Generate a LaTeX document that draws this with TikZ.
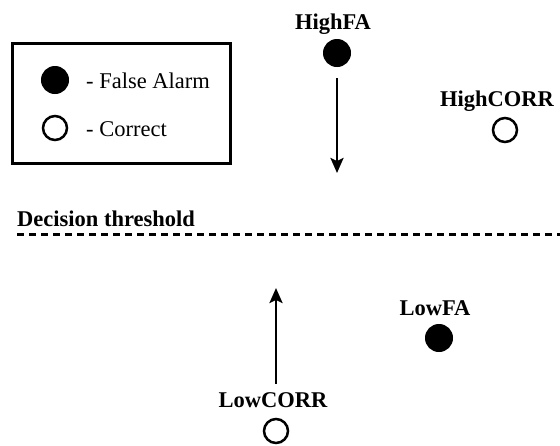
\documentclass[tikz,border=0pt]{standalone}
\usepackage{fontspec}
\setmainfont{Liberation Serif}
\newfontfamily\tnr{Liberation Serif}
\usetikzlibrary{arrows.meta}
\begin{document}
\begin{tikzpicture}[x=1pt,y=1pt,
  lbl/.style={font=\tnr\fontsize{22.5}{26}\selectfont\bfseries, inner sep=0pt, anchor=base},
  txt/.style={font=\tnr\fontsize{22.5}{26}\selectfont, inner sep=0pt, anchor=base west},
  fa/.style={circle, fill=black, draw=black, line width=1pt, minimum size=27pt, inner sep=0pt},
  corr/.style={circle, draw=black, line width=2.5pt, minimum size=24pt, inner sep=0pt},
  arr/.style={line width=2.5pt, -{Stealth[length=15pt,width=13pt,inset=3pt]}}]
\useasboundingbox (0,0) rectangle (560,-445);
% legend
\node[draw=black, line width=3pt, minimum width=218pt, minimum height=120pt, inner sep=0pt] (legend) at (121,-103) {};
\node[fa] (legfa) at (55,-80) {};
\node[txt] (legfatxt) at (86,-88) {- False Alarm};
\node[corr] (legcorr) at (55,-128) {};
\node[txt] (legcorrtxt) at (86,-136) {- Correct};
% high FA
\node[lbl] (hfalbl) at (333,-29) {HighFA};
\node[fa] (hfa) at (337,-53) {};
\coordinate (hfastart) at (337,-78);
\coordinate (hfaend) at (337,-173);
\draw[arr] (hfastart) -- (hfaend);
% high CORR
\node[lbl] (hcorrlbl) at (497,-106) {HighCORR};
\node[corr] (hcorr) at (505,-130) {};
% threshold
\node[lbl, anchor=base west] (thr) at (17,-226) {Decision threshold};
\coordinate (thrL) at (17,-234);
\coordinate (thrR) at (560,-234);
\draw[line width=3pt, dash pattern=on 7pt off 5pt] (thrL) -- (thrR);
% low FA
\node[lbl] (lfalbl) at (435,-315) {LowFA};
\node[fa] (lfa) at (439,-338) {};
% low CORR
\node[lbl] (lcorrlbl) at (273,-407) {LowCORR};
\node[corr] (lcorr) at (276,-431) {};
\coordinate (lcstart) at (276,-384);
\coordinate (lcend) at (276,-288);
\draw[arr] (lcstart) -- (lcend);
\end{tikzpicture}
\end{document}
